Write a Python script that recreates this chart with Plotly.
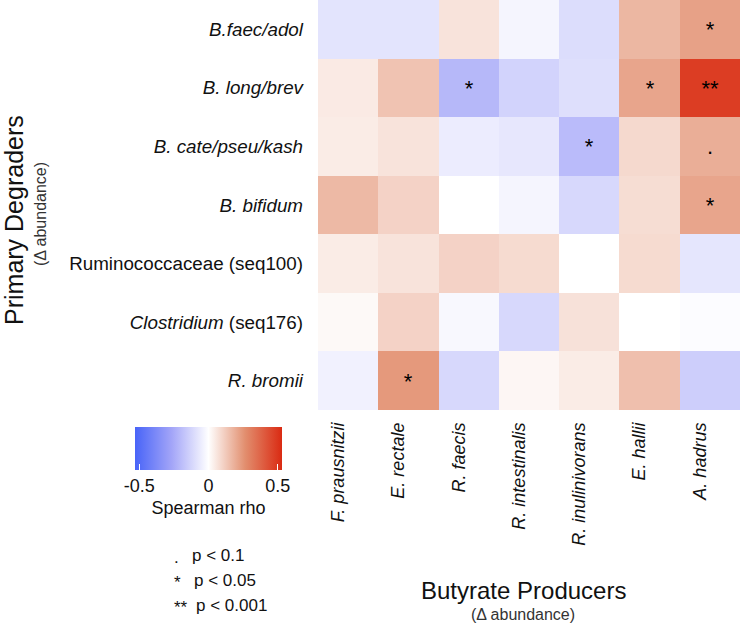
import plotly.graph_objects as go

producers = ["<i>F. prausnitzii</i>", "<i>E. rectale</i>", "<i>R. faecis</i>", "<i>R. intestinalis</i>",
             "<i>R. inulinivorans</i>", "<i>E. hallii</i>", "<i>A. hadrus</i>"]
degraders = ["<i>B.faec/adol</i>", "<i>B. long/brev</i>", "<i>B. cate/pseu/kash</i>", "<i>B. bifidum</i>",
             "Ruminococcaceae (seq100)", "<i>Clostridium</i> (seq176)", "<i>R. bromii</i>"]

rho = [
    [-0.08, -0.08, 0.065, -0.03, -0.10, 0.17, 0.22],
    [0.05, 0.14, -0.21, -0.13, -0.095, 0.21, 0.48],
    [0.045, 0.065, -0.055, -0.07, -0.20, 0.09, 0.19],
    [0.165, 0.105, 0.0, -0.03, -0.115, 0.08, 0.21],
    [0.045, 0.065, 0.105, 0.085, 0.0, 0.085, -0.075],
    [0.015, 0.105, -0.02, -0.115, 0.07, 0.0, -0.01],
    [-0.04, 0.24, -0.115, 0.02, 0.045, 0.15, -0.145],
]

signif = [
    ["", "", "", "", "", "", "*"],
    ["", "", "*", "", "", "*", "**"],
    ["", "", "", "", "*", "", "."],
    ["", "", "", "", "", "", "*"],
    ["", "", "", "", "", "", ""],
    ["", "", "", "", "", "", ""],
    ["", "*", "", "", "", "", ""],
]

cb_ticks = [-0.5, 0, 0.5]
legend_lines = [(".", "p < 0.1"), ("*", "p < 0.05"), ("**", "p < 0.001")]

W, H = 742, 626
L, R, T, B = 318, 2, 0, 216
pw, ph = W - L - R, H - T - B


def px(x):
    return (x - L) / pw


def py(y):
    return (H - B - y) / ph


FONT = "Liberation Sans, Arial, Helvetica, sans-serif"

fig = go.Figure(go.Heatmap(
    z=rho,
    x=list(range(len(producers))),
    y=list(range(len(degraders))),
    text=signif,
    texttemplate="%{text}",
    textfont=dict(size=22, color="black", family=FONT),
    zmin=-0.53, zmax=0.53,
    colorscale=[[0, "rgb(72,100,248)"], [0.25, "rgb(163,165,248)"], [0.5, "#ffffff"],
                [0.75, "rgb(226,142,110)"], [1, "rgb(218,42,18)"]],
    hoverinfo="skip",
    colorbar=dict(
        orientation="h",
        lenmode="pixels", len=147,
        thickness=43,
        x=px(208.5), xanchor="center",
        y=py(427), yanchor="top",
        xpad=0, ypad=0,
        outlinewidth=0,
        tickvals=cb_ticks,
        ticktext=["-0.5", "0", "0.5"],
        ticks="inside", ticklen=6, tickcolor="white", tickwidth=1,
        tickfont=dict(size=18, color="#111", family=FONT),
        title=dict(text="Spearman rho", side="bottom", font=dict(size=18, color="#111", family=FONT)),
    ),
))

fig.update_xaxes(
    tickmode="array", tickvals=list(range(len(producers))), ticktext=producers,
    tickangle=-90, tickfont=dict(size=18, color="#111", family=FONT),
    showgrid=False, zeroline=False, showline=False, ticks="",
    ticklabelstandoff=8, ticklabelshift=-10,
)
fig.update_yaxes(
    tickmode="array", tickvals=list(range(len(degraders))), ticktext=degraders,
    autorange="reversed",
    tickfont=dict(size=18.8, color="#111", family=FONT),
    showgrid=False, zeroline=False, showline=False, ticks="",
    ticklabelstandoff=14,
)

annotations = [
    dict(text="Primary Degraders", x=px(14), y=py(220), xref="paper", yref="paper",
         textangle=-90, showarrow=False, xanchor="center", yanchor="middle",
         font=dict(size=25, color="#111", family=FONT)),
    dict(text="(Δ abundance)", x=px(40), y=py(214), xref="paper", yref="paper",
         textangle=-90, showarrow=False, xanchor="center", yanchor="middle",
         font=dict(size=16, color="#333", family=FONT)),
    dict(text="Butyrate Producers", x=px(523), y=py(590), xref="paper", yref="paper",
         showarrow=False, xanchor="center", yanchor="middle",
         font=dict(size=24, color="#111", family=FONT)),
    dict(text="(Δ abundance)", x=px(523), y=py(614), xref="paper", yref="paper",
         showarrow=False, xanchor="center", yanchor="middle",
         font=dict(size=16, color="#333", family=FONT)),
]
for i, (sym, lab) in enumerate(legend_lines):
    yy = 555 + 25 * i
    annotations.append(dict(text=sym, x=px(172), y=py(yy + 2), xref="paper", yref="paper",
                            showarrow=False, xanchor="left", yanchor="middle",
                            font=dict(size=17, color="#111", family=FONT)))
    annotations.append(dict(text=lab, x=px(190 + 2 * i), y=py(yy), xref="paper", yref="paper",
                            showarrow=False, xanchor="left", yanchor="middle",
                            font=dict(size=17, color="#111", family=FONT)))

fig.update_layout(
    width=W, height=H,
    margin=dict(l=L, r=R, t=T, b=B),
    plot_bgcolor="white", paper_bgcolor="white",
    annotations=annotations,
    font=dict(family=FONT),
)

fig.write_html("out.html", config={"displayModeBar": False},
               post_script="document.body.style.margin='0';")
